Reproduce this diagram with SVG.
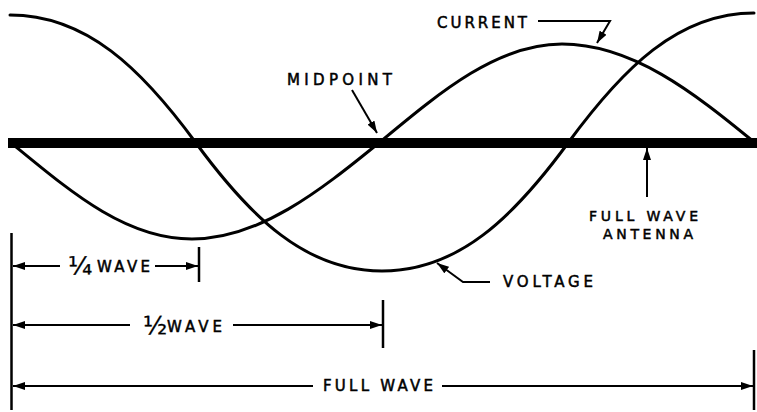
<svg xmlns="http://www.w3.org/2000/svg" width="757" height="412" viewBox="0 0 757 412">
<style>
.curve{fill:none;stroke:#000;stroke-width:3;stroke-linecap:round}
.ln{fill:none;stroke:#000;stroke-width:2}
.tick{fill:none;stroke:#000;stroke-width:2.5}
.lbl{font-family:"DejaVu Sans","Liberation Sans",sans-serif;font-size:15px;fill:#000;stroke:#000;stroke-width:0.5}
.sm{font-size:14px}
.frac{font-family:"DejaVu Sans","Liberation Sans",sans-serif;font-size:25px;fill:#000;stroke:#000;stroke-width:0.3}
</style>
<defs>
<marker id="ah" viewBox="0 0 12 8" refX="12" refY="4" markerWidth="12" markerHeight="8" markerUnits="userSpaceOnUse" orient="auto"><path d="M0,0 L12,4 L0,8 z" fill="#000"/></marker>
</defs>
<rect width="757" height="412" fill="#fff"/>
<g id="antenna"><rect x="8" y="138" width="749" height="10" fill="#000"/></g>
<g id="voltage-wave"><path class="curve" d="M10,15 C86,15 141,68 196,143 C251,218 306,271 382,271 C458,271 513,218 568,143 C623,68 678,13 754,13"/></g>
<g id="current-wave"><path class="curve" d="M10,142 C70.6,191.7 125,239 192,239 C259,239 319,191.7 380,142 C440,92.3 497,44 562,44 C632,44 693.4,92.3 754,142"/></g>
<g id="label-current"><text class="lbl" x="437" y="28" textLength="90" lengthAdjust="spacing">CURRENT</text></g>
<g id="label-midpoint"><text class="lbl" x="287" y="85" textLength="105" lengthAdjust="spacing">MIDPOINT</text></g>
<g id="label-antenna"><text class="lbl sm" x="589" y="221" textLength="109" lengthAdjust="spacing">FULL WAVE</text><text class="lbl sm" x="603" y="239" textLength="90" lengthAdjust="spacing">ANTENNA</text></g>
<g id="label-voltage"><text class="lbl" x="503" y="287" textLength="90" lengthAdjust="spacing">VOLTAGE</text></g>
<g id="label-quarter"><text class="frac" x="68" y="275">¼</text><text class="lbl" x="97" y="272" textLength="53" lengthAdjust="spacing">WAVE</text></g>
<g id="label-half"><text class="frac" x="143" y="334">½</text><text class="lbl" x="167" y="332" textLength="55" lengthAdjust="spacing">WAVE</text></g>
<g id="label-full"><text class="lbl" x="323" y="391" textLength="110" lengthAdjust="spacing">FULL WAVE</text></g>
<g id="connectors">
<line class="ln" x1="352" y1="90" x2="377" y2="133" marker-end="url(#ah)"/>
<polyline class="ln" points="538,21 610,21 597,43" marker-end="url(#ah)"/>
<polyline class="ln" points="490,282 463,282 437,263" marker-end="url(#ah)"/>
<line class="ln" x1="647" y1="197" x2="647" y2="148" stroke-width="2.5" marker-end="url(#ah)"/>
<line class="tick" x1="11.5" y1="233" x2="11.5" y2="410"/>
<line class="tick" x1="199" y1="247" x2="199" y2="282"/>
<line class="tick" x1="383" y1="300" x2="383" y2="348"/>
<line class="tick" x1="754" y1="350" x2="754" y2="410"/>
<line class="ln" x1="60" y1="266" x2="13" y2="266" marker-end="url(#ah)"/>
<line class="ln" x1="155" y1="266" x2="198" y2="266" marker-end="url(#ah)"/>
<line class="ln" x1="130" y1="325" x2="13" y2="325" marker-end="url(#ah)"/>
<line class="ln" x1="233" y1="325" x2="382" y2="325" marker-end="url(#ah)"/>
<line class="ln" x1="313" y1="386" x2="13" y2="386" marker-end="url(#ah)"/>
<line class="ln" x1="442" y1="386" x2="753" y2="386" marker-end="url(#ah)"/>
</g>
</svg>
